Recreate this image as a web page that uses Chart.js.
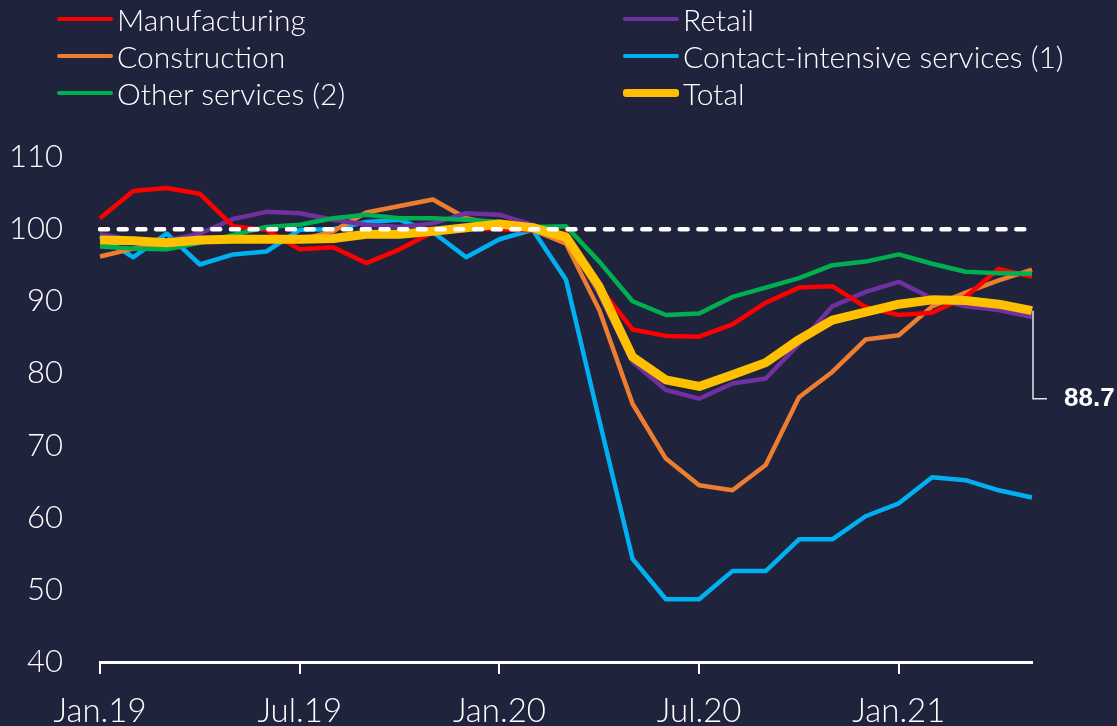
<!DOCTYPE html>
<html>
<head>
<meta charset="utf-8">
<script src="https://cdn.jsdelivr.net/npm/chart.js@4"></script>
<style>
  html, body { margin: 0; padding: 0; background: #1f233c; }
  #wrap { position: relative; width: 1117px; height: 726px; overflow: hidden; }
  #legend { position: absolute; left: 0; top: 0; width: 1117px; height: 120px; }
  .item { position: absolute; display: flex; align-items: center; color: #fff;
          font-family: Lato, 'Open Sans', sans-serif; font-weight: 300; font-size: 30px; white-space: nowrap; }
  .swatch { width: 56px; border-radius: 3px; margin-right: 4px; }
</style>
</head>
<body>
<div id="wrap">
  <canvas id="chart" width="1117" height="726"></canvas>
  <div id="legend"></div>
</div>
<script>
// Monthly index, Jan.19 = base
const months = [
  'Jan.19','Feb.19','Mar.19','Apr.19','May.19','Jun.19','Jul.19','Aug.19','Sep.19','Oct.19','Nov.19','Dec.19',
  'Jan.20','Feb.20','Mar.20','Apr.20','May.20','Jun.20','Jul.20','Aug.20','Sep.20','Oct.20','Nov.20','Dec.20',
  'Jan.21','Feb.21','Mar.21','Apr.21','May.21'
];

const manufacturing = [101.5,105.3,105.7,104.9,100.4,99.9,97.2,97.5,95.3,97.2,99.6,100.1,100.0,99.8,99.4,92.0,86.1,85.2,85.1,86.8,89.8,91.9,92.1,89.2,88.1,88.4,90.6,94.5,93.4];
const retail        = [99.3,98.5,98.4,99.4,101.4,102.4,102.2,101.3,100.6,100.3,100.8,102.2,102.0,100.6,99.0,91.0,81.6,77.7,76.5,78.6,79.3,84.1,89.3,91.3,92.7,90.4,89.3,88.8,87.8];
const construction  = [96.2,97.3,98.0,98.3,98.5,98.6,98.5,99.7,102.3,103.2,104.1,101.5,100.6,99.9,98.0,88.8,75.8,68.2,64.5,63.8,67.3,76.7,80.2,84.7,85.3,89.3,91.2,92.9,94.4];
const contactServ   = [99.0,96.1,99.4,95.1,96.5,96.9,99.9,100.0,101.0,101.3,99.6,96.1,98.6,99.9,93.0,73.5,54.3,48.7,48.7,52.6,52.6,57.0,57.0,60.2,62.0,65.6,65.2,63.8,62.8];
const otherServ     = [97.6,97.3,97.2,98.1,99.2,100.3,100.6,101.5,102.0,101.5,101.5,101.3,101.0,100.3,100.4,95.5,90.0,88.1,88.3,90.6,91.9,93.2,95.0,95.5,96.5,95.2,94.1,93.9,93.8];
const total         = [98.5,98.4,98.1,98.5,98.6,98.6,98.6,98.7,99.3,99.3,99.7,100.2,100.7,100.2,98.9,92.0,82.3,79.1,78.2,79.8,81.5,84.7,87.4,88.5,89.6,90.2,90.1,89.6,88.7];
const refLevel = 100;

const FONT = "Lato, 'Open Sans', sans-serif";

const series = [
  { label: 'Manufacturing', data: manufacturing, color: '#ff0000', width: 4.5, order: 3 },
  { label: 'Retail', data: retail, color: '#7030a0', width: 4.5, order: 4 },
  { label: 'Construction', data: construction, color: '#ed7d31', width: 4.5, order: 5 },
  { label: 'Contact-intensive services (1)', data: contactServ, color: '#00b0f0', width: 4.5, order: 6 },
  { label: 'Other services (2)', data: otherServ, color: '#00b050', width: 4.5, order: 2 },
  { label: 'Total', data: total, color: '#ffc000', width: 9, order: 1 },
];

// HTML legend, two columns
const legendEl = document.getElementById('legend');
series.forEach((s, i) => {
  const col = i % 2, row = Math.floor(i / 2);
  const el = document.createElement('div');
  el.className = 'item';
  el.style.left = (col === 0 ? 57 : 623) + 'px';
  el.style.top = (2 + row * 37) + 'px';
  el.style.height = '34px';
  el.innerHTML = `<span class="swatch" style="height:${s.width > 5 ? 8 : 4}px;background:${s.color}"></span><span>${s.label}</span>`;
  legendEl.appendChild(el);
});

const datasets = series.map(s => ({
  label: s.label,
  data: s.data,
  borderColor: s.color,
  backgroundColor: s.color,
  borderWidth: s.width,
  pointRadius: 0,
  tension: 0,
  borderJoinStyle: 'round',
  order: s.order,
}));

datasets.push({
  label: 'base',
  data: months.map(() => refLevel),
  borderColor: '#ffffff',
  borderWidth: 4.5,
  borderDash: [8, 10.7],
  borderCapStyle: 'round',
  pointRadius: 0,
  order: 0,
});

// callout for the last Total value
const lastLabel = {
  id: 'lastLabel',
  afterDatasetsDraw(chart) {
    const idx = datasets.findIndex(d => d.label === 'Total');
    const meta = chart.getDatasetMeta(idx);
    const pt = meta.data[meta.data.length - 1];
    const ctx = chart.ctx;
    const x = pt.x + 1, y = pt.y, yl = pt.y + 88;
    ctx.save();
    ctx.strokeStyle = '#e6e6e6';
    ctx.lineWidth = 1.5;
    ctx.beginPath();
    ctx.moveTo(x, y);
    ctx.lineTo(x, yl);
    ctx.lineTo(x + 14, yl);
    ctx.stroke();
    ctx.fillStyle = '#ffffff';
    ctx.font = "bold 26px 'Liberation Sans', Arial, sans-serif";
    ctx.textBaseline = 'middle';
    ctx.fillText(total[total.length - 1].toFixed(1), x + 31, yl);
    ctx.restore();
  }
};

new Chart(document.getElementById('chart'), {
  type: 'line',
  data: { labels: months, datasets },
  options: {
    responsive: false,
    animation: false,
    layout: { padding: { top: 157, right: 85, left: 0, bottom: 0 } },
    scales: {
      x: {
        offset: false,
        grid: {
          display: true,
          drawOnChartArea: false,
          drawTicks: true,
          tickLength: 12,
          lineWidth: 2,
          color: ctx => ctx.index % 6 === 0 ? '#ffffff' : 'rgba(0,0,0,0)',
        },
        border: { display: true, color: '#ffffff', width: 3 },
        ticks: {
          autoSkip: false,
          maxRotation: 0,
          color: '#ffffff',
          padding: 18,
          font: { family: FONT, size: 33, weight: 300 },
          callback: (v, i) => i % 6 === 0 ? months[i] : '',
        },
        afterFit: s => { s.height = 64; },
      },
      y: {
        min: 40,
        max: 110,
        grid: { display: false, drawTicks: false },
        border: { display: false },
        ticks: {
          stepSize: 10,
          color: '#ffffff',
          padding: 37,
          font: { family: FONT, size: 31, weight: 300 },
        },
        afterFit: s => { s.width = 100; },
      },
    },
    plugins: {
      legend: { display: false },
      tooltip: { enabled: false },
    },
  },
  plugins: [lastLabel],
});
</script>
</body>
</html>
